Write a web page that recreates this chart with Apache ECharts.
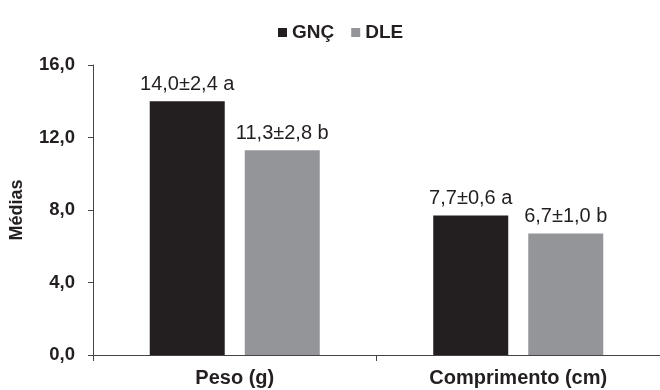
<!DOCTYPE html>
<html><head><meta charset="utf-8">
<script src="https://cdn.jsdelivr.net/npm/echarts@6/dist/echarts.min.js"></script>
<style>html,body{margin:0;padding:0;background:#fff}#c{width:660px;height:390px}</style>
</head><body><div id="c"></div>
<script>
var categories = ['Peso (g)', 'Comprimento (cm)'];
var gncValues = [14.0, 7.7];
var dleValues = [11.3, 6.7];
var gncLabels = ['14,0±2,4 a', '7,7±0,6 a'];
var dleLabels = ['11,3±2,8 b', '6,7±1,0 b'];
var yTicks = [0, 4, 8, 12, 16];

var font = 'Liberation Sans, Arial, sans-serif';
var chart = echarts.init(document.getElementById('c'));
function mkLabel(arr){
  return {show:true, position:'top', distance:7, color:'#231f20', fontSize:20, fontFamily:font,
    formatter:function(p){return arr[p.dataIndex];}};
}
chart.setOption({
  animation:false,
  legend:{top:18, left:273, icon:'rect', itemWidth:9, itemHeight:9, itemGap:17,
    textStyle:{fontSize:19, fontWeight:'bold', color:'#231f20', fontFamily:font},
    data:['GNÇ','DLE']},
  grid:{left:91, right:-4, top:65, bottom:35, containLabel:false},
  xAxis:{type:'category', data:categories,
    axisLine:{lineStyle:{color:'#444', width:1}},
    axisTick:{show:true, alignWithLabel:false, length:6, lineStyle:{color:'#444'}},
    axisLabel:{fontSize:20, fontWeight:'bold', color:'#231f20', fontFamily:font, margin:13}},
  yAxis:{type:'value', min:0, max:16, interval:4,
    name:'Médias', nameLocation:'middle', nameGap:67, nameRotate:90,
    nameTextStyle:{fontSize:18, fontWeight:'bold', color:'#231f20', fontFamily:font},
    axisLine:{show:true, lineStyle:{color:'#444', width:1}},
    axisTick:{show:true, length:5, lineStyle:{color:'#444'}},
    splitLine:{show:false},
    axisLabel:{fontSize:18.5, fontWeight:'bold', color:'#231f20', fontFamily:font, margin:18,
      formatter:function(v){return yTicks.indexOf(v)>=0 ? v.toFixed(1).replace('.',',') : '';}}},
  series:[
    {name:'GNÇ', type:'bar', data:gncValues, barWidth:75, barGap:'26.7%',
      itemStyle:{color:'#231f20'}, label:mkLabel(gncLabels)},
    {name:'DLE', type:'bar', data:dleValues, barWidth:75,
      itemStyle:{color:'#939598'}, label:mkLabel(dleLabels)}
  ]
});
</script></body></html>
